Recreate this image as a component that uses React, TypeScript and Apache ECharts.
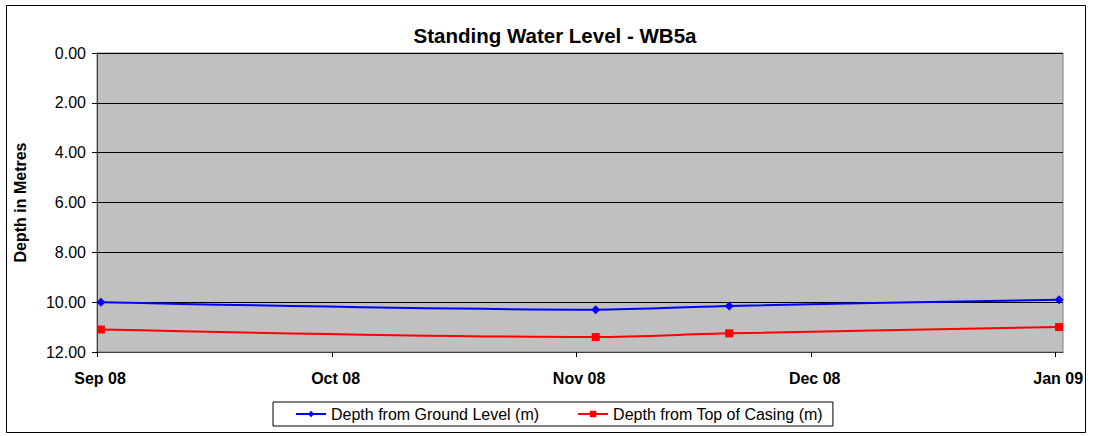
import React, { useEffect, useRef } from "react";
import * as echarts from "echarts";

const dates = ["2008-09-01", "2008-11-03", "2008-11-20", "2009-01-01"];
const groundLevel = [10.0, 10.3, 10.15, 9.9];
const topOfCasing = [11.1, 11.4, 11.25, 11.0];
const monthTicks = ["2008-09-01", "2008-10-01", "2008-11-01", "2008-12-01", "2009-01-01"];
const monthNames = ["Jan", "Feb", "Mar", "Apr", "May", "Jun", "Jul", "Aug", "Sep", "Oct", "Nov", "Dec"];

const DAY = 86400000;
const toMs = (s: string) => {
  const [y, m, d] = s.split("-").map(Number);
  return Date.UTC(y, m - 1, d);
};

export default function App() {
  const ref = useRef<HTMLDivElement>(null);
  useEffect(() => {
    if (!ref.current) return;
    const chart = echarts.init(ref.current, undefined, { renderer: "svg" });
    const font = "'Liberation Sans', Arial, sans-serif";
    const tickVals = monthTicks.map(toMs);
    // Excel date axis: each day occupies one unit; points sit mid-day
    const pt = (arr: number[]) => dates.map((d, i) => [toMs(d) + DAY / 2, arr[i]]);
    chart.setOption({
      animation: false,
      textStyle: { fontFamily: font },
      title: {
        text: "Standing Water Level - WB5a",
        left: 550,
        top: 20,
        textAlign: "center",
        textStyle: { fontFamily: font, fontWeight: "bold", fontSize: 20.5, color: "#000" },
      },
      graphic: [
        {
          type: "rect",
          shape: { x: 6.5, y: 5.5, width: 1079, height: 427 },
          style: { fill: "none", stroke: "#000", lineWidth: 1 },
          silent: true,
        },
      ],
      legend: {
        left: 273,
        top: 402,
        itemWidth: 30,
        itemHeight: 8,
        itemGap: 38,
        padding: [4, 10, 4, 22],
        borderColor: "#000",
        borderWidth: 1,
        textStyle: { fontFamily: font, fontSize: 16, color: "#000" },
        data: ["Depth from Ground Level (m)", "Depth from Top of Casing (m)"],
      },
      grid: {
        left: 97,
        right: 31,
        top: 53,
        bottom: 84,
        show: true,
        backgroundColor: "#C0C0C0",
        borderColor: "#808080",
        borderWidth: 1,
      },
      xAxis: {
        type: "value",
        min: toMs("2008-09-01"),
        max: toMs("2009-01-02"),
        axisLine: { onZero: false, lineStyle: { color: "#404040", width: 1 } },
        axisTick: { show: true, customValues: tickVals, length: 5, lineStyle: { color: "#000" } },
        axisLabel: {
          customValues: tickVals,
          margin: 18,
          padding: [0, 0, 0, 6],
          fontFamily: font,
          fontSize: 16,
          fontWeight: "bold",
          color: "#000",
          formatter: (v: number) => {
            const d = new Date(v);
            return monthNames[d.getUTCMonth()] + " " + String(d.getUTCFullYear() % 100).padStart(2, "0");
          },
        },
        splitLine: { show: false },
      },
      yAxis: {
        type: "value",
        inverse: true,
        min: 0,
        max: 12,
        interval: 2,
        name: "Depth in Metres",
        nameLocation: "middle",
        nameGap: 69,
        nameTextStyle: { fontFamily: font, fontWeight: "bold", fontSize: 16, color: "#000" },
        axisLine: { show: true, lineStyle: { color: "#404040", width: 1 } },
        axisTick: { show: true, length: 5, lineStyle: { color: "#000" } },
        axisLabel: {
          margin: 11,
          fontFamily: font,
          fontSize: 16,
          color: "#000",
          formatter: (v: number) => v.toFixed(2),
        },
        splitLine: { show: true, lineStyle: { color: "#000", width: 1 } },
      },
      series: [
        {
          name: "Depth from Ground Level (m)",
          type: "line",
          data: pt(groundLevel),
          smooth: 0.3,
          symbol: "diamond",
          symbolSize: 9,
          lineStyle: { color: "#0000FF", width: 2 },
          itemStyle: { color: "#0000FF" },
        },
        {
          name: "Depth from Top of Casing (m)",
          type: "line",
          data: pt(topOfCasing),
          smooth: 0.3,
          symbol: "rect",
          symbolSize: 8,
          lineStyle: { color: "#FF0000", width: 2 },
          itemStyle: { color: "#FF0000" },
        },
      ],
    });
    return () => chart.dispose();
  }, []);
  return (
    <div
      ref={ref}
      style={{ position: "fixed", left: 0, top: 0, width: 1094, height: 436, background: "#fff" }}
    />
  );
}
